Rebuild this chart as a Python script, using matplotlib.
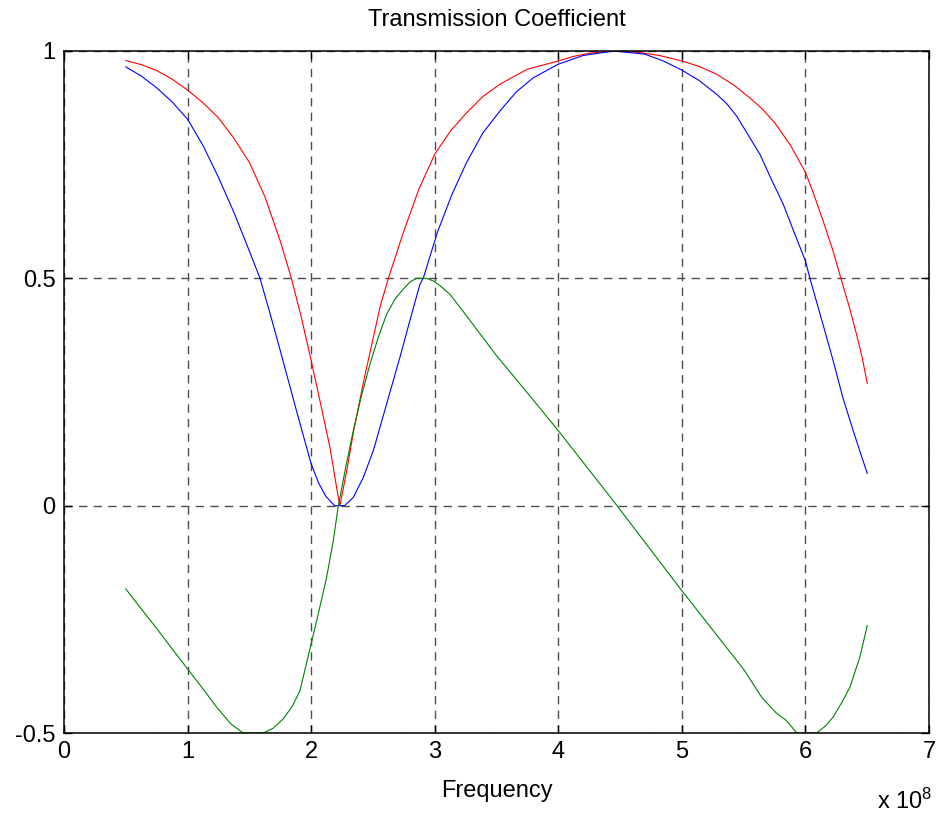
import matplotlib
matplotlib.use('Agg')
import matplotlib.pyplot as plt

# frequency in units of 1e8 Hz
red_f = [0.5, 0.625, 0.75, 0.875, 1.0, 1.125, 1.25, 1.375, 1.5, 1.625, 1.75, 1.84,
         1.92, 2.0, 2.071, 2.152, 2.206, 2.233,
         2.29, 2.341, 2.422, 2.503, 2.56, 2.625, 2.745, 2.87, 3.0, 3.13, 3.258, 3.39,
         3.528, 3.75, 4.0, 4.12, 4.25, 4.45, 4.65, 4.82, 5.0, 5.14, 5.28, 5.42, 5.55,
         5.652, 5.752, 5.88, 6.0, 6.07, 6.143, 6.22, 6.292, 6.355, 6.413, 6.46, 6.5]
red_t = [0.979, 0.970, 0.957, 0.938, 0.914, 0.886, 0.853, 0.808, 0.755, 0.680, 0.582, 0.5,
         0.415, 0.319, 0.231, 0.128, 0.04, 0.0,
         0.08, 0.16, 0.27, 0.37, 0.44, 0.5, 0.6, 0.695, 0.773, 0.825, 0.864, 0.9,
         0.927, 0.96, 0.978, 0.988, 0.995, 1.0, 0.997, 0.99, 0.978, 0.966, 0.949, 0.925, 0.897,
         0.872, 0.842, 0.792, 0.733, 0.683, 0.626, 0.563, 0.495, 0.437, 0.377, 0.325, 0.269]

blue_f = [0.5, 0.625, 0.75, 0.875, 1.0, 1.125, 1.25, 1.375, 1.5, 1.586, 1.67, 1.75,
          1.875, 2.0, 2.06, 2.12, 2.19, 2.27,
          2.341, 2.422, 2.503, 2.611, 2.718, 2.799, 2.88, 2.907, 2.975, 3.02, 3.14,
          3.258, 3.39, 3.528, 3.66, 3.797, 4.0, 4.2, 4.45, 4.7, 4.85, 5.0, 5.14, 5.28,
          5.36, 5.443, 5.631, 5.72, 5.82, 5.91, 6.0, 6.036, 6.13, 6.224, 6.3, 6.386, 6.44, 6.5]
blue_t = [0.965, 0.945, 0.919, 0.888, 0.85, 0.792, 0.722, 0.645, 0.56, 0.5, 0.42, 0.341,
          0.215, 0.092, 0.05, 0.02, 0.0, 0.0,
          0.018, 0.062, 0.121, 0.224, 0.326, 0.407, 0.487, 0.5, 0.56, 0.6, 0.685,
          0.755, 0.82, 0.868, 0.91, 0.941, 0.971, 0.99, 1.0, 0.993, 0.978, 0.958, 0.935, 0.905,
          0.885, 0.857, 0.773, 0.72, 0.663, 0.6, 0.538, 0.5, 0.41, 0.319, 0.24, 0.165, 0.12, 0.071]

green_f = [0.5, 0.625, 0.75, 0.875, 1.0, 1.125, 1.235, 1.35, 1.45, 1.61, 1.69, 1.774,
           1.85, 1.909, 2.0, 2.06, 2.125, 2.179, 2.22,
           2.28, 2.341, 2.41, 2.476, 2.545, 2.611, 2.68, 2.745, 2.8, 2.853, 2.934, 2.99,
           3.042, 3.123, 3.25, 3.5, 3.75, 4.0, 4.444, 5.0, 5.5, 5.645, 5.76, 5.847, 5.93, 6.09,
           6.16, 6.224, 6.3, 6.36, 6.44, 6.5]
green_t = [-0.183, -0.227, -0.27, -0.315, -0.359, -0.403, -0.443, -0.48, -0.5, -0.5, -0.49, -0.469,
           -0.44, -0.407, -0.304, -0.235, -0.158, -0.077, 0.0,
           0.085, 0.165, 0.245, 0.311, 0.372, 0.421, 0.455, 0.476, 0.492, 0.5, 0.5, 0.494,
           0.484, 0.465, 0.42, 0.33, 0.248, 0.165, 0.011, -0.187, -0.36, -0.421, -0.455, -0.473, -0.5, -0.5,
           -0.485, -0.465, -0.43, -0.399, -0.333, -0.264]

plt.rcParams['font.family'] = ['Liberation Sans', 'DejaVu Sans']
plt.rcParams['mathtext.default'] = 'regular'
fs = 17

fig = plt.figure(figsize=(9.37, 8.17), dpi=100)
ax = fig.add_axes([0.0683, 0.1028, 0.9232, 0.8348])

ax.plot(red_f, red_t, color='red', lw=0.8)
ax.plot(blue_f, blue_t, color='blue', lw=0.8)
ax.plot(green_f, green_t, color=(0, 0.5, 0), lw=0.8)

ax.set_xlim(0, 7)
ax.set_ylim(-0.5, 1)
ax.set_xticks(range(8))
ax.set_yticks([-0.5, 0, 0.5, 1])
ax.set_yticklabels(['-0.5', '0', '0.5', '1'])
ax.grid(True, color=(0.3, 0.3, 0.3), lw=1.0, linestyle=(0, (6, 4.5)))
ax.tick_params(direction='in', length=6, width=1, top=True, right=True,
               labelsize=fs, pad=6)
for s in ax.spines.values():
    s.set_linewidth(1.1)

ax.set_title('Transmission Coefficient', fontsize=fs, pad=18)
ax.set_xlabel('Frequency', fontsize=fs, labelpad=12)
fig.text(0.995, 0.004, 'x 10$^8$', fontsize=fs, ha='right', va='bottom')

plt.savefig('out.png')
